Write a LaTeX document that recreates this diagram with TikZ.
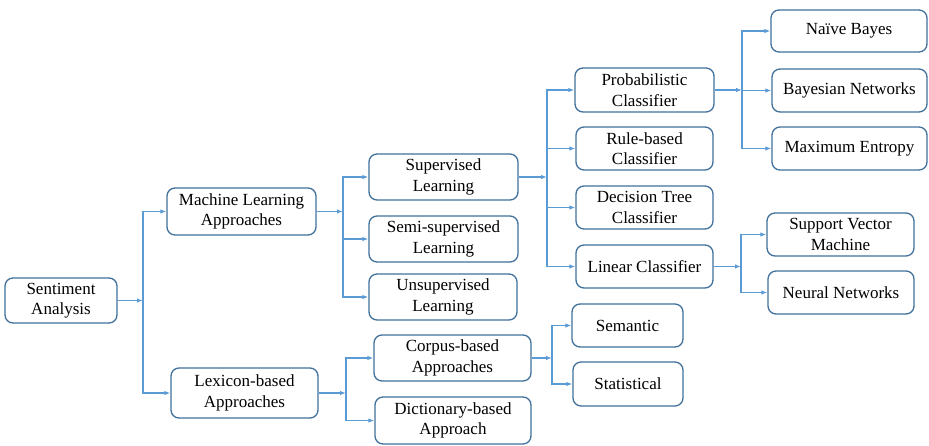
\documentclass[tikz,border=0pt]{standalone}
\usepackage{fontspec}
\setmainfont{Liberation Serif}
\usetikzlibrary{arrows.meta}
\definecolor{boxline}{HTML}{41719C}
\definecolor{linkline}{HTML}{5B9BD5}
\tikzset{
  box/.style={draw=boxline, line width=1.3pt, rounded corners=8pt, align=center,
    font=\fontsize{17}{20.5}\selectfont, inner sep=1pt},
  link/.style={draw=linkline, line width=1.2pt},
  arr/.style={link, -{Latex[length=6pt,width=4.5pt]}},
}
\newcommand{\bx}[6]{\node[box, minimum width=#4pt, minimum height=#5pt] (#1) at (#2,#3) {#6};}
% a parent feeds a junction, which fans out to its children
\newcommand{\fan}[4]{%
  \coordinate (#2) at (#3,0);
  \draw[arr] (#1.east) -- (#2 |- #1.east);
  \foreach \c in {#4} {\draw[arr] (#2 |- #1.east) |- (\c.west);}
}
\begin{document}
\begin{tikzpicture}[x=1pt,y=-1pt]
\useasboundingbox (0,0) rectangle (929,445);
\fill[white] (0,0) rectangle (929,445);

\bx{sa}{61}{300.5}{112}{45}{Sentiment\\Analysis}
\bx{ml}{241.5}{211.5}{149}{47}{Machine Learning\\Approaches}
\bx{lb}{244.5}{393}{147}{50}{Lexicon-based\\Approaches}

\bx{sl}{443.5}{177}{149}{46}{Supervised\\Learning}
\bx{ssl}{443.5}{239}{149}{46}{Semi-supervised\\Learning}
\bx{usl}{443}{297}{148}{46}{Unsupervised\\Learning}
\bx{cb}{452.5}{358}{157}{46}{Corpus-based\\Approaches}
\bx{db}{453}{420.5}{156}{47}{Dictionary-based\\Approach}

\bx{pc}{644.5}{90}{139}{44}{Probabilistic\\Classifier}
\bx{rb}{644.5}{148.5}{137}{43}{Rule-based\\Classifier}
\bx{dt}{644.5}{207.5}{137}{43}{Decision Tree\\Classifier}
\bx{lc}{644.5}{266.5}{137}{43}{Linear Classifier}

\bx{nb}{849}{31}{156}{42}{Naïve Bayes}
\bx{bn}{849.5}{90.5}{155}{43}{Bayesian Networks}
\bx{me}{849.5}{148.5}{155}{43}{Maximum Entropy}
\bx{svm}{840.5}{234.5}{147}{43}{Support Vector\\Machine}
\bx{nn}{841}{292.5}{146}{43}{Neural Networks}

\bx{sem}{627.5}{325.5}{111}{43}{Semantic}
\bx{stat}{628}{384}{110}{44}{Statistical}

\fan{sa}{j1}{143}{ml,lb}
\fan{ml}{j2}{343}{sl,ssl,usl}
\fan{lb}{j3}{346}{cb,db}
\fan{sl}{j4}{547}{pc,rb,dt,lc}
\fan{pc}{j5}{742}{nb,bn,me}
\fan{lc}{j6}{741}{svm,nn}
\fan{cb}{j7}{552}{sem,stat}
\end{tikzpicture}
\end{document}
